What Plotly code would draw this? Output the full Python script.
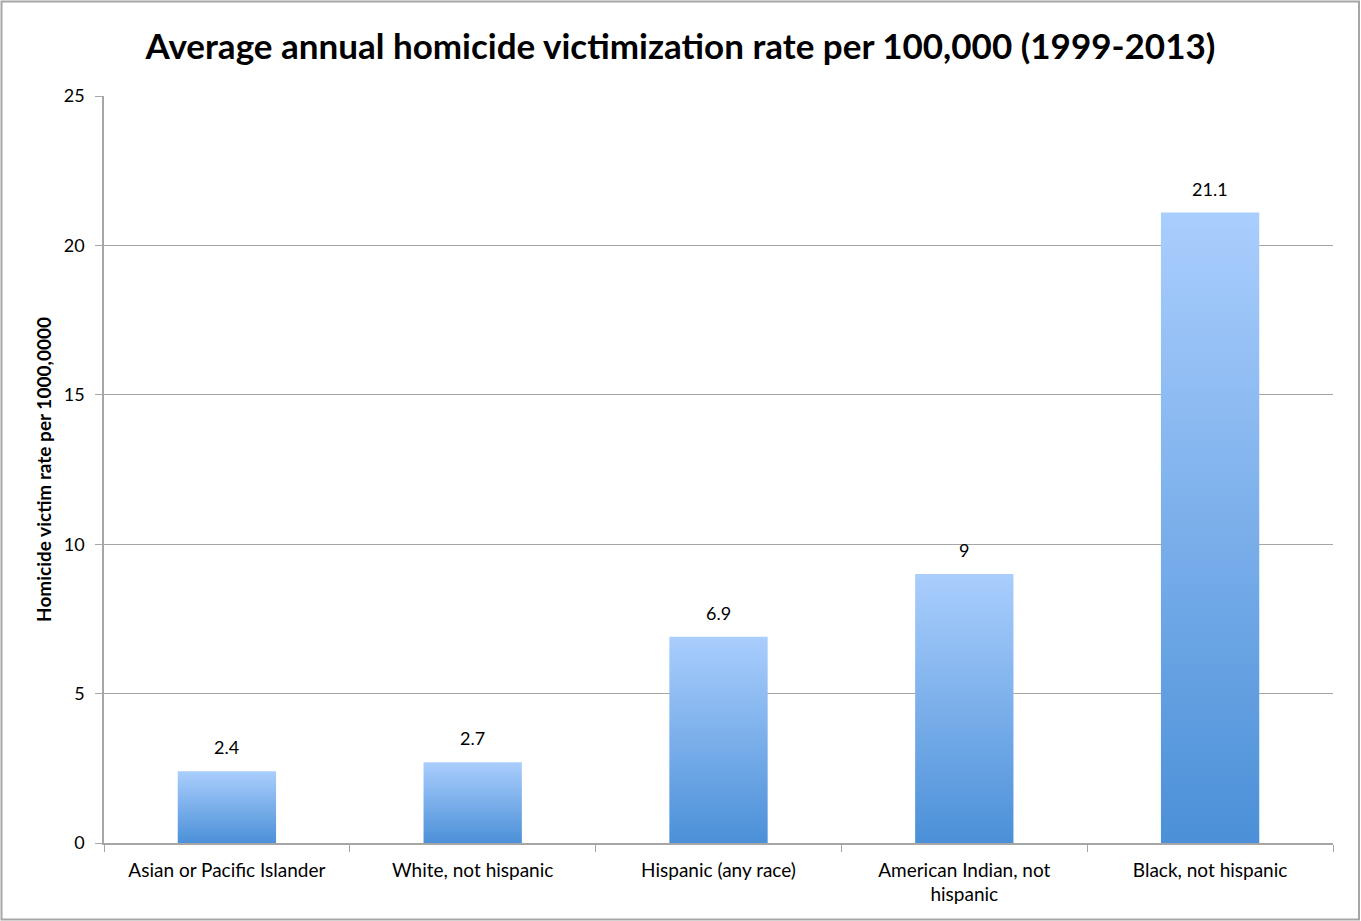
import plotly.graph_objects as go

categories = ["Asian or Pacific Islander", "White, not hispanic", "Hispanic (any race)",
              "American Indian, not<br>hispanic", "Black, not hispanic"]
values = [2.4, 2.7, 6.9, 9.0, 21.1]
value_labels = ["2.4", "2.7", "6.9", "9", "21.1"]
y_ticks = [0, 5, 10, 15, 20, 25]

W, H = 1361, 921
ML, MR, MT, MB = 104, 28, 96, 78
FONT = "Lato, 'Open Sans', sans-serif"
top_color = "#aacefd"
bottom_color = "#4b90d8"
half_w = 0.2

fig = go.Figure()
for i, v in enumerate(values):
    fig.add_trace(go.Scatter(
        x=[i - half_w, i + half_w, i + half_w, i - half_w, i - half_w],
        y=[0, 0, v, v, 0],
        mode="lines", line=dict(width=0), fill="toself",
        fillgradient=dict(type="vertical",
                          colorscale=[[0, bottom_color], [1, top_color]]),
        hoverinfo="skip", showlegend=False,
    ))
    fig.add_annotation(x=i, y=v, text=value_labels[i], showarrow=False,
                       yanchor="bottom", yshift=11,
                       font=dict(family=FONT, size=18, color="#000"))

pw = W - ML - MR
ph = H - MT - MB
fig.add_shape(type="rect", xref="paper", yref="paper",
              x0=(1.5 - ML) / pw, x1=(W - 2 - ML) / pw,
              y0=-(H - 1.5 - MT - ph) / ph, y1=1 + (MT - 1.5) / ph,
              line=dict(color="#a6a6a6", width=2), layer="below")

fig.update_layout(
    width=W, height=H,
    margin=dict(l=ML, r=MR, t=MT, b=MB),
    paper_bgcolor="white", plot_bgcolor="white",
    title=dict(text="<b>Average annual homicide victimization rate per 100,000 (1999-2013)</b>",
               x=0.5, xref="container", xanchor="center", y=1 - 47 / H, yanchor="middle",
               font=dict(family=FONT, size=35, color="#000")),
    font=dict(family=FONT, size=18, color="#000"),
    xaxis=dict(range=[-0.5, 4.5], tickmode="array", tickvals=list(range(len(categories))),
               ticktext=categories, ticks="outside", ticklen=0, tickcolor="#a6a6a6",
               ticklabelstandoff=9,
               minor=dict(tickmode="array", tickvals=[k - 0.5 for k in range(len(categories) + 1)],
                          ticks="outside", ticklen=7, tickcolor="#a6a6a6", tickwidth=1,
                          showgrid=False),
               showline=True, linecolor="#a6a6a6", linewidth=1.5,
               showgrid=False, zeroline=False, fixedrange=True,
               tickfont=dict(family=FONT, size=19, color="#000")),
    yaxis=dict(range=[0, 25], tickmode="array", tickvals=y_ticks,
               ticks="outside", ticklen=7, tickcolor="#a6a6a6", ticklabelstandoff=7,
               showline=True, linecolor="#a6a6a6", linewidth=1.5,
               showgrid=True, gridcolor="#a6a6a6", gridwidth=1, zeroline=False,
               title=dict(text="<b>Homicide victim rate per 1000,0000</b>",
                          font=dict(family=FONT, size=19, color="#000"), standoff=7),
               tickfont=dict(family=FONT, size=18, color="#000")),
)

fig.write_html("out.html", config={"displayModeBar": False},
               post_script="document.body.style.margin='0';document.body.style.overflow='hidden';")
